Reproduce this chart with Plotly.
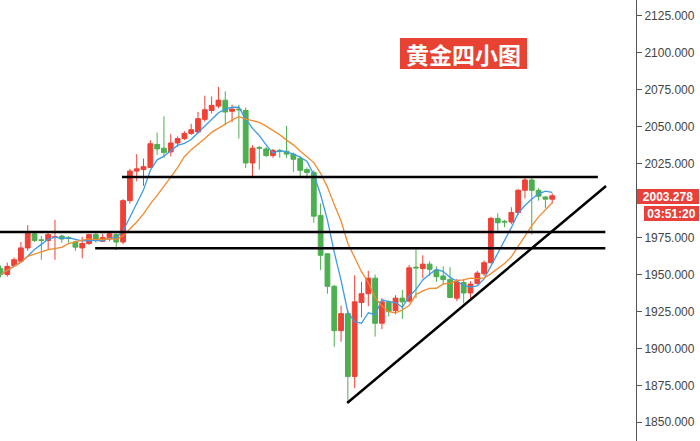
import plotly.graph_objects as go
import pandas as pd

# ---- data (index = candle number, left to right) ----
opens = [1954, 1950, 1956, 1959, 1968, 1977.5, 1973.5, 1973, 1975, 1976,
         1975, 1972, 1968, 1971, 1977, 1972.5, 1974, 1977, 1972, 2000,
         2020, 2021, 2022.5, 2038, 2035.5, 2033, 2039, 2042, 2045.5, 2046.5,
         2055, 2061, 2064, 2068, 2060.5, 2062, 2061, 2025.5, 2036, 2035,
         2030.5, 2034, 2033.5, 2031.5, 2028.5, 2021, 2019, 1990, 1964, 1942,
         1912, 1923.5, 1881, 1931, 1937, 1947.5, 1917, 1931.5, 1925.5, 1934,
         1932, 1955, 1954, 1957, 1953, 1949, 1946.5, 1934, 1944.5, 1937.5,
         1944, 1950.5, 1958, 1988, 1986, 1985.5, 1992, 2007, 2014, 2007,
         2002.5, 2001]
highs = [1956, 1958, 1961.5, 1972, 1983.5, 1978.5, 1976, 1978, 1987, 1977,
         1976, 1973, 1975.5, 1977.5, 1978, 1977.5, 1978.5, 1978, 2001, 2021.5,
         2031.5, 2028.5, 2041, 2046, 2057, 2045, 2043.5, 2047, 2052, 2060,
         2071, 2070.5, 2077, 2074, 2065, 2065, 2063, 2037.5, 2037, 2036.5,
         2035, 2035, 2050.5, 2032.5, 2030, 2022.5, 2020.5, 1998, 1964.5, 1943,
         1929, 1926, 1949.5, 1945, 1952.5, 1950, 1934, 1932.5, 1936, 1939.5,
         1956.5, 1967, 1963, 1959, 1955.5, 1955.5, 1955, 1947, 1947, 1945.5,
         1952.5, 1959.5, 1989, 1991.5, 1987, 1995.5, 2008, 2016, 2016, 2008.5,
         2003, 2005]
lows = [1948, 1948.5, 1955, 1958, 1966, 1972, 1960, 1967, 1960, 1971.5,
        1971.5, 1966, 1961, 1970, 1971.5, 1972, 1972.5, 1966.5, 1970.5, 1998,
        2013, 2010, 2022, 2031, 2029, 2030, 2036.5, 2041, 2044.5, 2045.5,
        2053.5, 2059, 2062.5, 2051, 2053, 2042, 2022, 2016, 2021, 2029.5,
        2029, 2029, 2029, 2019.5, 2016, 2015, 1985, 1953, 1937, 1901,
        1904.5, 1864, 1873, 1921, 1928.5, 1908, 1913, 1921.5, 1923, 1920,
        1931, 1934, 1947.5, 1949, 1945, 1943, 1934, 1932, 1930.5, 1934,
        1943, 1949, 1957.5, 1979, 1982, 1984, 1990.5, 2001.5, 1977, 2000,
        1995, 1998]
closes = [1950, 1955.5, 1960, 1968, 1978, 1973, 1973, 1977, 1975.5, 1974,
          1974.5, 1968.5, 1971, 1977, 1973, 1975, 1977.5, 1972, 2000, 2020,
          2021.5, 2023, 2038.5, 2035, 2032.5, 2039, 2042, 2045.5, 2048, 2055.5,
          2061.5, 2064.5, 2068, 2060, 2062, 2061.5, 2025.5, 2035.5, 2035.5, 2030.5,
          2034, 2033.5, 2031.5, 2028, 2020.5, 2019, 1989.5, 1963, 1942, 1912,
          1923.5, 1881, 1931.5, 1937, 1947.5, 1917, 1931.5, 1925, 1934, 1931.5,
          1954.5, 1954.5, 1957, 1953.5, 1948.5, 1946.5, 1934.5, 1945, 1937.5, 1943.5,
          1951, 1958, 1988, 1985, 1985.5, 1992, 2007, 2014, 2007, 2003,
          2001, 2003.278]

y_ticks = [1850, 1875, 1900, 1925, 1950, 1975, 2000, 2025, 2050, 2075, 2100, 2125]
# the 2000 label is hidden behind the last-price tag in the reference
y_tick_labels = ["1850.000", "1875.000", "1900.000", "1925.000", "1950.000",
                 "1975.000", "", "2025.000", "2050.000", "2075.000",
                 "2100.000", "2125.000"]
last_price = 2003.278
last_time = "03:51:20"
title_text = "黄金四小图"

# drawn support / resistance levels: (x start, x end, price)
level_prices = [2016.0, 1978.8, 1967.7]
level_x0 = [17.84, -0.07, 13.9]
level_x1 = [87.7, 88.8, 88.8]
trend_x = [50.9, 88.9]
trend_y = [1863.0, 2009.9]

RED = "#ef4136"
GREEN = "#4caf50"
LABEL_RED = "#e8403a"

idx = list(range(len(closes)))
s = pd.Series(closes)
ma5 = s.rolling(5, min_periods=1).mean()
ma10 = s.rolling(10, min_periods=1).mean()

fig = go.Figure()
fig.add_trace(go.Candlestick(
    x=idx, open=opens, high=highs, low=lows, close=closes,
    increasing=dict(line=dict(color=RED, width=1), fillcolor=RED),
    decreasing=dict(line=dict(color=GREEN, width=1), fillcolor=GREEN),
    whiskerwidth=0, showlegend=False, hoverinfo="skip"))
fig.add_trace(go.Scatter(x=idx, y=ma5, mode="lines",
                         line=dict(color="#3d9be9", width=1.3), showlegend=False))
fig.add_trace(go.Scatter(x=idx, y=ma10, mode="lines",
                         line=dict(color="#f28a2e", width=1.3), showlegend=False))

for x0, x1, p in zip(level_x0, level_x1, level_prices):
    fig.add_shape(type="line", xref="x", yref="y", x0=x0, x1=x1, y0=p, y1=p,
                  line=dict(color="black", width=2.5))
fig.add_shape(type="line", xref="x", yref="y", x0=trend_x[0], x1=trend_x[1],
              y0=trend_y[0], y1=trend_y[1], line=dict(color="black", width=2.5))

fig.add_annotation(xref="paper", yref="paper", x=0.728, y=0.8776,
                   xanchor="center", yanchor="middle",
                   text="<b>" + title_text + "</b>", showarrow=False,
                   font=dict(family="Noto Sans CJK SC", size=23, color="white"),
                   bgcolor="#e84232", borderpad=2, borderwidth=0,
                   width=123, height=27)

fig.add_annotation(xref="paper", yref="y", x=1, y=last_price, xanchor="left",
                   yanchor="middle", xshift=1, yshift=-1,
                   text="<b>%.3f</b>" % last_price, showarrow=False,
                   font=dict(family="Liberation Sans", size=12, color="white"),
                   bgcolor=LABEL_RED, borderpad=2, borderwidth=0,
                   width=58, height=11)
fig.add_annotation(xref="paper", yref="y", x=1, y=last_price, xanchor="left",
                   yanchor="middle", xshift=8, yshift=-18,
                   text="<b>" + last_time + "</b>", showarrow=False,
                   font=dict(family="Liberation Sans", size=12, color="white"),
                   bgcolor=LABEL_RED, borderpad=2, borderwidth=0,
                   width=51, height=11)

fig.update_layout(
    width=700, height=441,
    margin=dict(l=0, r=64, t=0, b=0),
    paper_bgcolor="white", plot_bgcolor="white",
    boxgap=0.3, boxgroupgap=0,
    xaxis=dict(range=[-0.07, 93.3], showticklabels=False, showgrid=False,
               zeroline=False, rangeslider=dict(visible=False), ticks=""),
    yaxis=dict(range=[1837.3, 2135.8], side="right", tickvals=y_ticks,
               ticktext=y_tick_labels, ticks="outside", ticklen=5, tickcolor="#555",
               showline=True, linecolor="#555", linewidth=1, showgrid=False,
               zeroline=False, automargin=False,
               tickfont=dict(family="Liberation Sans", size=12, color="#444")),
)

fig.write_html("out.html", config={"displayModeBar": False},
               post_script="document.body.style.margin='0px';")
